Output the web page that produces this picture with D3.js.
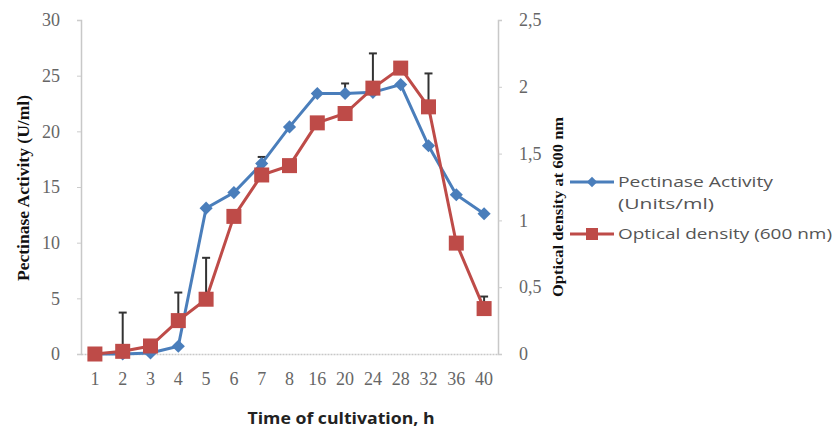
<!DOCTYPE html>
<html>
<head>
<meta charset="utf-8">
<script src="https://cdn.jsdelivr.net/npm/d3@7"></script>
<style>
  body { margin: 0; background: #fff; }
</style>
</head>
<body>
<div id="vis"></div>
<script>
// time points (h) and measured values
const hours = ['1', '2', '3', '4', '5', '6', '7', '8', '16', '20', '24', '28', '32', '36', '40']
const pectinase = [0, 0, 0.1, 0.7, 13.1, 14.5, 17.1, 20.4, 23.4, 23.4, 23.5, 24.2, 18.7, 14.3, 12.6]
const density = [0, 0.02, 0.06, 0.25, 0.41, 1.03, 1.34, 1.41, 1.73, 1.8, 1.99, 2.14, 1.85, 0.83, 0.34]
// error bar tops (only where shown)
const pectinaseErr = [null, null, null, null, null, null, 17.7, null, null, 24.3, null, null, null, null, null]
const densityErr = [null, 0.31, null, 0.46, 0.72, null, null, null, null, null, 2.25, null, 2.1, null, 0.43]
const leftTicks = [0, 5, 10, 15, 20, 25, 30]
const rightTicks = [0, 0.5, 1, 1.5, 2, 2.5]

const width = 836,
  height = 430
const m = { left: 81, right: 498, top: 20, bottom: 354 }

const svg = d3.select('#vis').append('svg').attr('width', width).attr('height', height)

const x = d3.scaleBand().domain(hours).range([m.left, m.right])
const yL = d3.scaleLinear().domain([0, 30]).range([m.bottom, m.top])
const yR = d3.scaleLinear().domain([0, 2.5]).range([m.bottom, m.top])
const cx = (d) => x(d) + x.bandwidth() / 2

const blue = '#4a7ebb',
  red = '#be4b48',
  tickColor = '#666'

// axes
const axL = svg
  .append('g')
  .attr('transform', `translate(${m.left},0)`)
  .call(d3.axisLeft(yL).tickValues(leftTicks).tickSize(4).tickPadding(17))
const axR = svg
  .append('g')
  .attr('transform', `translate(${m.right},0)`)
  .call(
    d3
      .axisRight(yR)
      .tickValues(rightTicks)
      .tickSize(4)
      .tickPadding(17)
      .tickFormat((d) => String(d).replace('.', ','))
  )
const axB = svg
  .append('g')
  .attr('transform', `translate(0,${m.bottom})`)
  .call(d3.axisBottom(x).tickSize(0).tickPadding(18))

;[axL, axR, axB].forEach((g) => {
  g.select('.domain').attr('stroke', '#c8c8c8').attr('stroke-width', 1.5)
  g.selectAll('.tick line').attr('stroke', '#ccc')
  g.selectAll('.tick text')
    .attr('fill', tickColor)
    .style('font-family', "'Liberation Serif', serif")
    .style('font-size', '18px')
})
axB.select('.domain').attr('stroke-dasharray', '2,1')

// error bars
function errBars(vals, tops, scale) {
  const d = hours.map((h, i) => ({ h, v: vals[i], t: tops[i] })).filter((e) => e.t != null)
  const g = svg.append('g').attr('stroke', '#333').attr('stroke-width', 2)
  g.selectAll('line.v')
    .data(d)
    .join('line')
    .attr('class', 'v')
    .attr('x1', (e) => cx(e.h))
    .attr('x2', (e) => cx(e.h))
    .attr('y1', (e) => scale(e.v))
    .attr('y2', (e) => scale(e.t))
  g.selectAll('line.c')
    .data(d)
    .join('line')
    .attr('class', 'c')
    .attr('x1', (e) => cx(e.h) - 4)
    .attr('x2', (e) => cx(e.h) + 4)
    .attr('y1', (e) => scale(e.t))
    .attr('y2', (e) => scale(e.t))
}

errBars(pectinase, pectinaseErr, yL)
errBars(density, densityErr, yR)

// pectinase series
const lineL = d3.line().x((d, i) => cx(hours[i])).y((d) => yL(d))
svg.append('path').datum(pectinase).attr('d', lineL).attr('fill', 'none').attr('stroke', blue).attr('stroke-width', 3)
svg
  .append('g')
  .selectAll('path')
  .data(pectinase)
  .join('path')
  .attr('d', d3.symbol(d3.symbolDiamond2, 110))
  .attr('transform', (d, i) => `translate(${cx(hours[i])},${yL(d)})`)
  .attr('fill', blue)

// optical density series
const lineR = d3.line().x((d, i) => cx(hours[i])).y((d) => yR(d))
svg.append('path').datum(density).attr('d', lineR).attr('fill', 'none').attr('stroke', red).attr('stroke-width', 3)
svg
  .append('g')
  .selectAll('rect')
  .data(density)
  .join('rect')
  .attr('x', (d, i) => cx(hours[i]) - 7.5)
  .attr('y', (d) => yR(d) - 7.5)
  .attr('width', 15)
  .attr('height', 15)
  .attr('fill', red)

// axis titles
svg
  .append('text')
  .attr('transform', 'translate(29,188) rotate(-90)')
  .attr('text-anchor', 'middle')
  .attr('textLength', 186)
  .attr('lengthAdjust', 'spacingAndGlyphs')
  .style('font-family', "'Liberation Serif', serif")
  .style('font-weight', 'bold')
  .style('font-size', '17px')
  .attr('fill', '#111')
  .text('Pectinase Activity (U/ml)')

svg
  .append('text')
  .attr('transform', 'translate(563,207) rotate(-90)')
  .attr('text-anchor', 'middle')
  .attr('textLength', 180)
  .attr('lengthAdjust', 'spacingAndGlyphs')
  .style('font-family', "'Liberation Serif', serif")
  .style('font-weight', 'bold')
  .style('font-size', '15px')
  .attr('fill', '#111')
  .text('Optical density at 600 nm')

svg
  .append('text')
  .attr('x', 341)
  .attr('y', 424)
  .attr('text-anchor', 'middle')
  .attr('textLength', 187)
  .attr('lengthAdjust', 'spacingAndGlyphs')
  .style('font-family', "'Open Sans', sans-serif")
  .style('font-weight', 'bold')
  .style('font-size', '16px')
  .attr('fill', '#222')
  .text('Time of cultivation, h')

// legend
const legend = svg.append('g').style('font-family', "'Open Sans', sans-serif").style('font-size', '15px')
const items = [
  { label: ['Pectinase Activity', '(Units/ml)'], lens: [155, 96], color: blue, y: 182, shape: 'diamond' },
  { label: ['Optical density (600 nm)'], lens: [214], color: red, y: 234, shape: 'square' }
]
items.forEach((it) => {
  legend.append('line').attr('x1', 570).attr('x2', 614).attr('y1', it.y).attr('y2', it.y).attr('stroke', it.color).attr('stroke-width', 3)
  if (it.shape === 'diamond') {
    legend.append('path').attr('d', d3.symbol(d3.symbolDiamond2, 70)).attr('transform', `translate(592,${it.y})`).attr('fill', it.color)
  } else {
    legend.append('rect').attr('x', 586).attr('y', it.y - 6).attr('width', 12).attr('height', 12).attr('fill', it.color)
  }
  it.label.forEach((t, j) => {
    legend
      .append('text')
      .attr('x', 618)
      .attr('y', it.y + 5 + j * 22)
      .attr('textLength', it.lens[j])
      .attr('lengthAdjust', 'spacingAndGlyphs')
      .attr('fill', '#555')
      .text(t)
  })
})
</script>
</body>
</html>
